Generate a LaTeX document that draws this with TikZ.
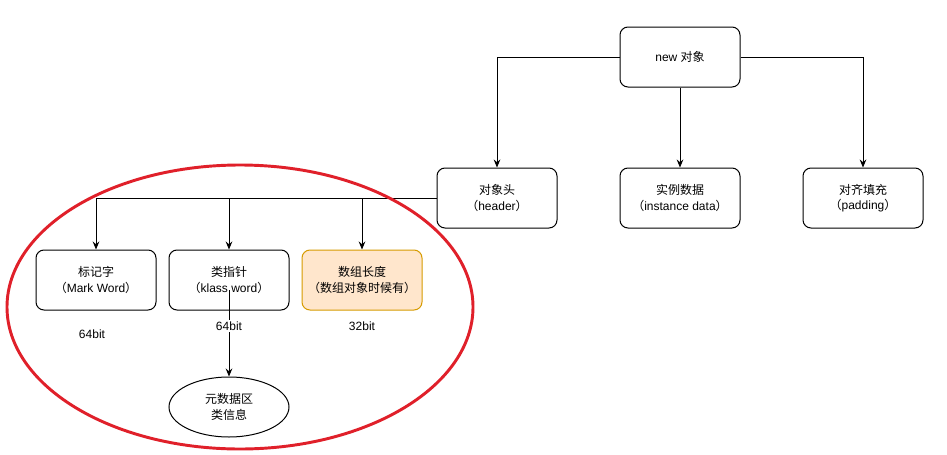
\documentclass[tikz,border=0pt]{standalone}
\usepackage{fontspec}
\setmainfont{Liberation Sans}
\newfontfamily\cjk{Noto Sans CJK SC}
\usetikzlibrary{arrows.meta,shapes.geometric}
\definecolor{edgered}{HTML}{E0202A}
\definecolor{orangefill}{HTML}{FFE6CC}
\definecolor{orangeline}{HTML}{D79B00}
\tikzset{
  box/.style={draw, rounded corners=6pt, minimum width=90pt, minimum height=45pt,
    align=center, font=\fontsize{9}{11.5}\selectfont, inner sep=0pt, line width=0.75pt},
  oval/.style={draw, ellipse, minimum width=90pt, minimum height=45pt,
    align=center, font=\fontsize{9}{11.5}\selectfont, inner sep=0pt, line width=0.75pt},
  lbl/.style={font=\fontsize{9}{11}\selectfont, inner sep=1pt},
  conn/.style={line width=0.75pt, -{Stealth[length=6pt,width=5pt,inset=2pt]}},
  plain/.style={line width=0.75pt}
}
\begin{document}
\begin{tikzpicture}[x=0.75pt,y=-0.75pt]
  \useasboundingbox (0,0) rectangle (947,454);
  \fill[white] (0,0) rectangle (947,454);

  % top level
  \node[box] (new) at (680,57) {new {\cjk 对象}};
  \node[box] (head) at (497,198) {{\cjk 对象头}\\{\cjk （}header{\cjk ）}};
  \node[box] (inst) at (680,198) {{\cjk 实例数据}\\{\cjk （}instance data{\cjk ）}};
  \node[box] (pad) at (863,198) {{\cjk 对齐填充}\\{\cjk （}padding{\cjk ）}};

  \draw[conn] (new.west) -| (head.north);
  \draw[conn] (new.south) -- (inst.north);
  \draw[conn] (new.east) -| (pad.north);

  % header parts
  \node[box] (mark) at (96,280) {{\cjk 标记字}\\{\cjk （}Mark Word{\cjk ）}};
  \node[box] (klass) at (229,280) {{\cjk 类指针}\\{\cjk （}klass word{\cjk ）}};
  \node[box, fill=orangefill, draw=orangeline] (arr) at (362,280) {{\cjk 数组长度}\\{\cjk （数组对象时候有）}};

  \coordinate (bus) at (96,198);
  \draw[plain] (head.west) -- (bus);
  \draw[conn] (bus) -- (mark.north);
  \draw[conn] (klass.north |- head.west) -- (klass.north);
  \draw[conn] (arr.north |- head.west) -- (arr.north);

  % metadata
  \node[oval] (meta) at (229,407) {{\cjk 元数据区}\\{\cjk 类信息}};
  \coordinate (kstart) at (229,290);
  \draw[conn] (kstart) -- (meta.north);

  % sizes
  \node[lbl] (s1) at (92,334) {64bit};
  \node[lbl, fill=white] (s2) at (229,326) {64bit};
  \node[lbl] (s3) at (362,326) {32bit};

  % highlight
  \draw[edgered, line width=2.2pt] (240,307) ellipse [x radius=233, y radius=142];
\end{tikzpicture}
\end{document}
